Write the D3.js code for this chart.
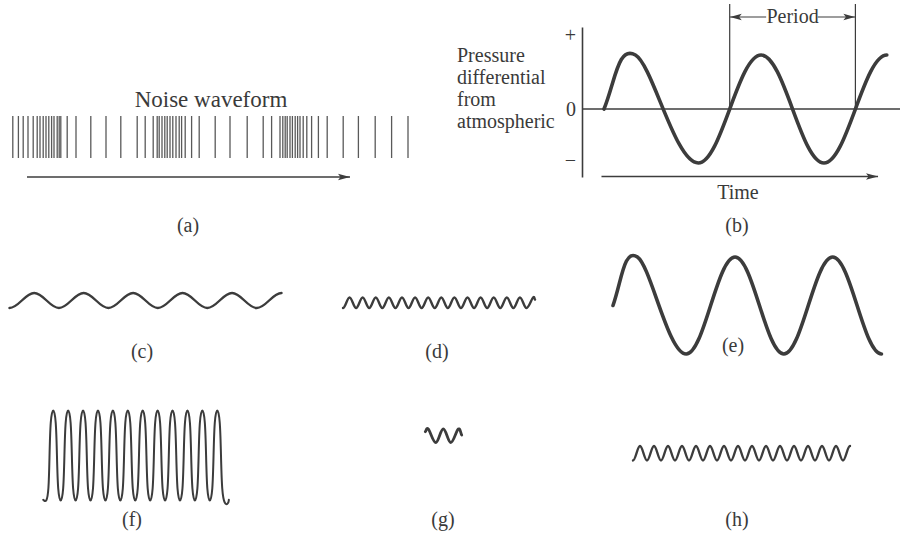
<!DOCTYPE html>
<html><head><meta charset="utf-8">
<script src="https://cdn.jsdelivr.net/npm/d3@7"></script>
<style>
html,body{margin:0;padding:0;background:#fff;}
svg{display:block;}
text{font-family:"Liberation Serif","DejaVu Serif",serif;fill:#3a3a3a;}
</style></head><body>
<svg id="chart" width="900" height="545"></svg>
<script>
// ---------- data ----------
const noiseTitle = "Noise waveform";
const noiseTimes = [0.7,2.1,3.3,4.5,5.8,6.8,7.5,8.3,9.0,9.7,10.4,11.0,11.8,12.3,12.7,14.3,16.5,20.2,24.0,27.7,31.8,33.8,35.8,36.8,37.3,38.0,38.7,39.3,40.0,40.7,41.5,42.3,42.9,43.8,45.4,47.3,51.3,55.0,59.3,63.3,65.4,67.5,68.2,68.8,69.3,70.0,70.6,71.3,71.9,72.5,73.3,74.2,75.4,77.1,79.3,83.3,87.1,91.3,95.4,99.5];
const noiseArrow = [4.25, 85];

const bTimes = [0, 0.25, 0.75, 1.25, 1.75, 2.25];
const bValues = [0, 1, -1, 1, -1, 1];
const bTickValues = [1.37, 0, -0.94];
const bTickLabels = ["+", "0", "\u2212"];
const periodMarks = [1, 2];
const pressureLines = ["Pressure", "differential", "from", "atmospheric"];

const cTimes = [0, 0.5, 1, 1.5, 2, 2.5, 3, 3.5, 4, 4.5, 5, 5.5];
const cValues = [-1, 1, -1, 1, -1, 1, -1, 1, -1, 1, -1, 1];

const dTimes = [-0.5, 0, 0.5, 1, 1.5, 2, 2.5, 3, 3.5, 4, 4.5, 5, 5.5, 6, 6.5, 7, 7.5, 8, 8.5, 9, 9.5, 10, 10.5, 11, 11.5, 12, 12.5, 13, 13.5, 14, 14.15];
const dValues = [-1, 1, -1, 1, -1, 1, -1, 1, -1, 1, -1, 1, -1, 1, -1, 1, -1, 1, -1, 1, -1, 1, -1, 1, -1, 1, -1, 1, -1, 1, 0.6];

const eTimes = [0, 0.25, 0.75, 1.25, 1.75, 2.25, 2.75];
const eValues = [0, 1, -1, 1, -1, 1, -1];

const fTimes = [-0.85, 0,0, 1,1, 2,2, 3,3, 4,4, 5,5, 6,6, 7,7, 8,8, 9,9, 10,10, 11,11, 12,12, 13,13, 14,14, 15,15, 16,16, 17,17, 18,18, 19,19, 20,20, 21,21, 22,22, 23,23, 24, 24.05];
const fValues = [-0.9, -1,1, 1,-1, -1,1, 1,-1, -1,1, 1,-1, -1,1, 1,-1, -1,1, 1,-1, -1,1, 1,-1, -1,1, 1,-1, -1,1, 1,-1, -1,1, 1,-1, -1,1, 1,-1, -1,1, 1,-1, -1,1, 1,-1, -1, -0.9];

const gTimes = [-0.2, 0, 0.5, 1, 1.5, 2, 2.23];
const gValues = [0.6, 1, -1, 1, -1, 1, 0.1];

const hTimes = [-0.5, 0, 0.5, 1, 1.5, 2, 2.5, 3, 3.5, 4, 4.5, 5, 5.5, 6, 6.5, 7, 7.5, 8, 8.5, 9, 9.5, 10, 10.5, 11, 11.5, 12, 12.5, 13, 13.5, 14, 14.5, 15];
const hValues = [-1, 1, -1, 1, -1, 1, -1, 1, -1, 1, -1, 1, -1, 1, -1, 1, -1, 1, -1, 1, -1, 1, -1, 1, -1, 1, -1, 1, -1, 1, -1, 1];

const panelLabels = ["(a)", "(b)", "(c)", "(d)", "(e)", "(f)", "(g)", "(h)"];
const timeLabel = "Time";
const periodLabel = "Period";

// ---------- drawing ----------
const ink = "#3c3c3c";
const svg = d3.select("#chart");
const defs = svg.append("defs");
defs.append("marker").attr("id", "ah").attr("viewBox", "0 0 12 8")
  .attr("refX", 12).attr("refY", 4).attr("markerWidth", 12).attr("markerHeight", 8)
  .attr("markerUnits", "userSpaceOnUse").attr("orient", "auto")
  .append("path").attr("d", "M0,0.8 L12,4 L0,7.2 L2.5,4 Z").attr("fill", ink);

// smooth sinusoid-like path through the extrema (Hermite with cardinal tangents)
function sinePath(times, values, xs, ys) {
  const pts = times.map((t, i) => [xs(t), ys(values[i])]);
  const n = pts.length;
  const tan = pts.map((q, i) => {
    if (i > 0 && i < n - 1) return [(pts[i + 1][0] - pts[i - 1][0]) * 0.55, (pts[i + 1][1] - pts[i - 1][1]) * 0.55];
    const o = i === 0 ? pts[1] : pts[n - 2];
    const s = i === 0 ? 1 : -1;
    const dx = (o[0] - q[0]) * s, dy = (o[1] - q[1]) * s;
    const v = Math.abs(values[i]);
    if (v >= 0.999) return [dx * 1.1, 0];
    return [dx * 1.1, dy * (v === 0 ? 1.6 : 1.0)];
  });
  const p = d3.path();
  p.moveTo(pts[0][0], pts[0][1]);
  for (let i = 0; i < n - 1; i++) {
    p.bezierCurveTo(pts[i][0] + tan[i][0] / 3, pts[i][1] + tan[i][1] / 3,
      pts[i + 1][0] - tan[i + 1][0] / 3, pts[i + 1][1] - tan[i + 1][1] / 3,
      pts[i + 1][0], pts[i + 1][1]);
  }
  return p.toString();
}
function drawPath(d, width) {
  svg.append("path").attr("d", d).attr("fill", "none").attr("stroke", ink)
    .attr("stroke-width", width).attr("stroke-linecap", "round").attr("stroke-linejoin", "round");
}
function wave(times, values, xs, ys, width) { drawPath(sinePath(times, values, xs, ys), width); }
function label(txt, x, y, size, anchor) {
  svg.append("text").attr("x", x).attr("y", y).attr("font-size", size)
    .attr("text-anchor", anchor || "middle").text(txt);
}

// (a) noise
const nx = d3.scaleLinear().domain([0, 100]).range([10, 410]);
svg.append("g").selectAll("line").data(noiseTimes).join("line")
  .attr("x1", d => nx(d)).attr("x2", d => nx(d)).attr("y1", 116).attr("y2", 158)
  .attr("stroke", "#595959").attr("stroke-width", 1.3);
svg.append("line").attr("x1", nx(noiseArrow[0])).attr("x2", nx(noiseArrow[1]))
  .attr("y1", 177).attr("y2", 177).attr("stroke", ink).attr("stroke-width", 1.4)
  .attr("marker-end", "url(#ah)");
label(noiseTitle, 211, 107, 23);
label(panelLabels[0], 188, 232, 20);

// (b) pressure sine
const bx = d3.scaleLinear().domain([0, 1]).range([604, 729.7]);
const by = d3.scaleLinear().domain([-1.26, 1.52]).range([177, 27]);
const yAxis = d3.axisLeft(by).tickValues(bTickValues).tickSize(0).tickPadding(6)
  .tickFormat((d, i) => bTickLabels[i]);
const ga = svg.append("g").attr("transform", "translate(582,0)").call(yAxis);
ga.select(".domain").attr("stroke", ink).attr("stroke-width", 1.6);
ga.selectAll("text").attr("font-size", 20).attr("fill", "#3a3a3a")
  .attr("font-family", '"Liberation Serif", serif');
svg.append("line").attr("x1", 582).attr("x2", 900).attr("y1", by(0)).attr("y2", by(0))
  .attr("stroke", ink).attr("stroke-width", 1.6);
svg.append("line").attr("x1", bx(-0.02)).attr("x2", bx(2.18)).attr("y1", 176.5).attr("y2", 176.5)
  .attr("stroke", ink).attr("stroke-width", 1.4).attr("marker-end", "url(#ah)");
wave(bTimes, bValues, bx, by, 3.6);
svg.append("g").selectAll("line").data(periodMarks).join("line")
  .attr("x1", d => bx(d)).attr("x2", d => bx(d)).attr("y1", 4).attr("y2", by(0))
  .attr("stroke", ink).attr("stroke-width", 1.2);
svg.append("line").attr("x1", bx(1.29)).attr("x2", bx(periodMarks[0])).attr("y1", 17).attr("y2", 17)
  .attr("stroke", ink).attr("stroke-width", 1.2).attr("marker-end", "url(#ah)");
svg.append("line").attr("x1", bx(1.7)).attr("x2", bx(periodMarks[1])).attr("y1", 17).attr("y2", 17)
  .attr("stroke", ink).attr("stroke-width", 1.2).attr("marker-end", "url(#ah)");
label(periodLabel, bx(1.5), 23, 20);
pressureLines.forEach((t, i) => label(t, 457, 62 + i * 22, 20, "start"));
label(timeLabel, 738, 199, 20);
label(panelLabels[1], 737, 232, 20);

// (c)
wave(cTimes, cValues, d3.scaleLinear().domain([0, 5.5]).range([9.5, 281.5]),
  d3.scaleLinear().domain([-1, 1]).range([308, 293]), 2.4);
label(panelLabels[2], 142, 358, 20);

// (d)
wave(dTimes, dValues, d3.scaleLinear().domain([-0.5, 14.15]).range([343, 535]),
  d3.scaleLinear().domain([-1, 1]).range([308, 297.5]), 2.4);
label(panelLabels[3], 437, 358, 20);

// (e)
wave(eTimes, eValues, d3.scaleLinear().domain([0, 2.75]).range([613, 881.5]),
  d3.scaleLinear().domain([-1, 1]).range([354, 257]), 3.6);
label(panelLabels[4], 733, 352, 20);

// (f)
const fLine = d3.line().x(d => fx(d[0])).y(d => fy(d[1])).curve(d3.curveBasis);
const fx = d3.scaleLinear().domain([0, 23]).range([49.5, 221]);
const fy = d3.scaleLinear().domain([-1, 1]).range([504.7, 406.5]);
drawPath(fLine(d3.zip(fTimes, fValues)), 2);
label(panelLabels[5], 132, 526, 20);

// (g)
wave(gTimes, gValues, d3.scaleLinear().domain([0, 2]).range([428.3, 458.3]),
  d3.scaleLinear().domain([-1, 1]).range([442.5, 429]), 2.8);
label(panelLabels[6], 443, 526, 20);

// (h)
wave(hTimes, hValues, d3.scaleLinear().domain([-0.5, 15]).range([633, 850]),
  d3.scaleLinear().domain([-1, 1]).range([460.5, 446]), 2.4);
label(panelLabels[7], 737, 526, 20);
</script>
</body></html>
